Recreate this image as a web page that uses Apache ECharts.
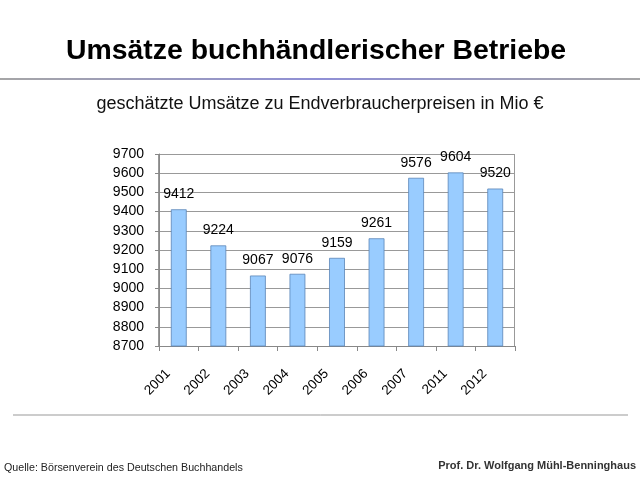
<!DOCTYPE html>
<html><head><meta charset="utf-8">
<script src="https://cdn.jsdelivr.net/npm/echarts@6/dist/echarts.min.js"></script>
<style>html,body{margin:0;padding:0;background:#fff}#c{width:640px;height:480px}</style>
</head><body><div id="c"></div>
<script>
var years = ['2001','2002','2003','2004','2005','2006','2007','2011','2012'];
var umsatz = [9412, 9224, 9067, 9076, 9159, 9261, 9576, 9604, 9520];
var yMin = 8700, yMax = 9700, yStep = 100;

var FONT = 'Liberation Sans, Arial';
var chart = echarts.init(document.getElementById('c'));
chart.setOption({
  animation: false,
  backgroundColor: '#fff',
  title: [
    {text: 'Umsätze buchhändlerischer Betriebe', left: 66, top: 37, padding: 0,
     textStyle: {fontFamily: FONT, fontSize: 28.4, fontWeight: 'bold', color: '#000'}},
    {text: 'geschätzte Umsätze zu Endverbraucherpreisen in Mio €', left: 'center', top: 95, padding: 0,
     textStyle: {fontFamily: FONT, fontSize: 18, fontWeight: 'normal', color: '#111'}},
    {text: 'Quelle: Börsenverein des Deutschen Buchhandels', left: 4, top: 463, padding: 0,
     textStyle: {fontFamily: FONT, fontSize: 10.7, fontWeight: 'normal', color: '#222'}},
    {text: 'Prof. Dr. Wolfgang Mühl-Benninghaus', right: 4, top: 460, padding: 0,
     textStyle: {fontFamily: FONT, fontSize: 11, fontWeight: 'bold', color: '#333'}}
  ],
  graphic: [
    {type: 'line', shape: {x1: 0, y1: 79, x2: 640, y2: 79},
     style: {lineWidth: 1.5, stroke: new echarts.graphic.LinearGradient(0,0,1,0,[
       {offset: 0, color: '#888'}, {offset: 0.5, color: '#6a6ac8'}, {offset: 1, color: '#888'}])}},
    {type: 'line', shape: {x1: 13, y1: 415, x2: 628, y2: 415},
     style: {lineWidth: 1, stroke: '#999'}},
    {type: 'rect', shape: {x: 158.5, y: 154.5, width: 356, height: 192}, z: -1,
     style: {fill: 'none', stroke: '#999', lineWidth: 1}}
  ],
  grid: {left: 159, right: 125, top: 154, bottom: 134},
  xAxis: {
    type: 'category', data: years,
    axisLine: {lineStyle: {color: '#888'}},
    axisTick: {show: true, alignWithLabel: false, length: 5, lineStyle: {color: '#888'}},
    axisLabel: {rotate: 45, fontFamily: FONT, fontSize: 13.5, color: '#000', margin: 15, padding: [0, 15, 0, 0]}
  },
  yAxis: {
    type: 'value', min: yMin, max: yMax, interval: yStep,
    axisLine: {show: true, lineStyle: {color: '#888'}},
    axisTick: {show: true, length: 4, lineStyle: {color: '#888'}},
    splitLine: {lineStyle: {color: '#999'}},
    axisLabel: {fontFamily: FONT, fontSize: 14, color: '#000', margin: 15,
      formatter: function (v) { return String(v); }}
  },
  series: [{
    type: 'bar', data: umsatz, barWidth: '40%',
    itemStyle: {color: '#99CCFF', borderColor: '#5a85b8', borderWidth: 0.8},
    label: {show: true, position: 'top', distance: 8, fontFamily: FONT, fontSize: 14, color: '#000'}
  }]
});
</script></body></html>
